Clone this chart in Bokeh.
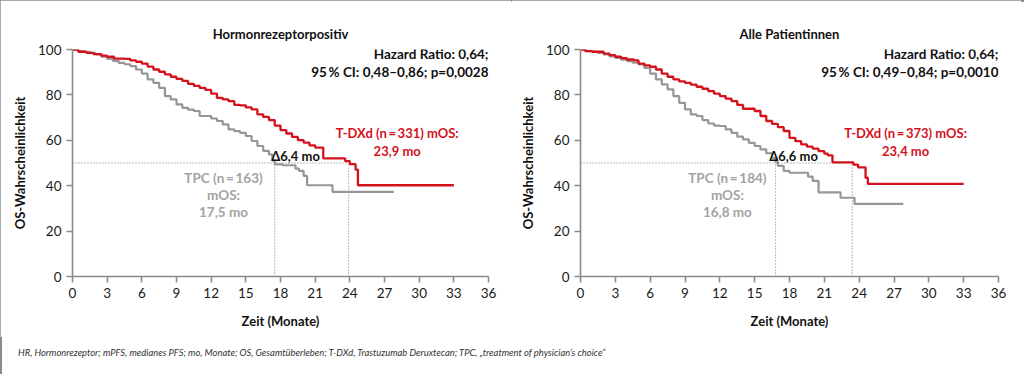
from bokeh.plotting import figure
from bokeh.models import Range1d, FixedTicker, Label, Div
from bokeh.layouts import row, column
from bokeh.embed import file_html
from bokeh.resources import INLINE

# ---------------- data ----------------
x_ticks = [0, 3, 6, 9, 12, 15, 18, 21, 24, 27, 30, 33, 36]
y_ticks = [0, 20, 40, 60, 80, 100]

# Panel 1: Hormonrezeptorpositiv
hr_tdxd_t = [0, 0.5, 1.2, 1.8, 2.5, 3.0, 3.6, 4.5, 5.0, 5.5, 6.0, 6.5, 7.0, 7.5, 8.0, 8.5,
             9.0, 9.5, 10.0, 10.5, 11.0, 11.5, 12.0, 12.5, 13.0, 13.5, 14.0, 14.5, 15.0,
             15.5, 16.0, 16.5, 17.0, 17.5, 18.0, 18.5, 19.0, 19.5, 20.0, 20.5, 21.0, 21.7,
             23.6, 24.0, 24.5, 24.7, 33.0]
hr_tdxd_s = [100, 99, 98.5, 98, 97.3, 96.8, 96, 95.9, 95.2, 94.6, 93.8, 92.5, 91.2, 90.2,
             89, 88, 87.1, 86.2, 84.9, 84, 83.1, 82.2, 80.6, 78.7, 78, 77.3, 75.6, 75.4,
             74.5, 73.6, 71.4, 70.3, 68.9, 66.5, 64.5, 63.0, 61.5, 60.1, 59, 57.8, 56.8,
             52.0, 50.8, 49.5, 47.1, 40.2, 40.2]
hr_tpc_t = [0, 0.5, 1.0, 1.5, 2.0, 2.5, 3.0, 3.5, 4.0, 4.5, 5.0, 5.5, 6.0, 6.5, 7.0, 7.5,
            8.0, 8.5, 9.0, 9.5, 10.0, 10.5, 11.0, 12.0, 12.5, 13.0, 13.5, 14.0, 14.5, 15.0,
            15.5, 16.0, 16.5, 17.0, 17.3, 17.5, 18.2, 19.3, 19.6, 20.0, 20.3, 22.5, 27.8]
hr_tpc_s = [100, 99.3, 99, 98.5, 97.8, 96.8, 95.9, 95, 94.1, 93.5, 92.7, 91.2, 89.4, 86.8,
            85.3, 83.1, 79.5, 78, 75.8, 74.3, 73.5, 72.9, 70.7, 69.6, 68.5, 67, 64.8, 64,
            63.3, 61.9, 59.7, 57.5, 55.3, 53.8, 51.2, 49.4, 49.0, 47.5, 46.5, 44.3, 40.2,
            37.3, 37.3]
hr_median_tdxd = 23.9
hr_median_tpc = 17.5

# Panel 2: Alle Patientinnen
all_tdxd_t = [0, 0.4, 1.0, 2.0, 2.5, 3.0, 3.5, 4.0, 4.6, 5.0, 5.5, 6.0, 6.5, 7.0, 7.5, 8.0,
              8.5, 9.0, 9.5, 10.0, 10.5, 11.0, 11.5, 12.0, 12.5, 13.0, 13.5, 14.0, 15.0,
              15.5, 16.0, 16.5, 17.0, 17.5, 18.0, 18.5, 19.0, 19.5, 20.0, 20.5, 21.0, 21.3,
              21.7, 23.5, 23.9, 24.55, 24.75, 33.0]
all_tdxd_s = [100, 99.3, 99, 98.2, 97.5, 96.8, 96.2, 95.6, 95.2, 93.8, 93, 92.4, 91.2, 89.4,
              88, 86.8, 86, 85.3, 84.5, 83.6, 82.7, 81.7, 80.6, 79.5, 78.4, 77.3, 75.6,
              73.9, 72.9, 70.7, 68.5, 67.2, 65.8, 64.1, 61.1, 59.6, 58.2, 57.2, 56.3, 55.2,
              54.1, 53.4, 50.3, 49.3, 48.1, 43.5, 40.8, 40.8]
all_tpc_t = [0, 0.5, 1.0, 1.5, 2.0, 2.5, 3.0, 3.5, 4.0, 4.5, 5.0, 5.5, 6.0, 6.5, 7.0, 7.5,
             8.0, 8.5, 9.0, 9.5, 10.0, 10.5, 11.0, 11.5, 12.0, 12.5, 13.0, 13.5, 14.0, 14.5,
             15.0, 15.5, 16.0, 16.5, 16.8, 17.0, 17.5, 18.0, 19.6, 20.0, 20.5, 22.4, 23.6,
             27.8]
all_tpc_s = [100, 99.3, 99, 98.5, 97.8, 97, 96.3, 95.5, 94.9, 94.2, 93.4, 91.9, 89.4, 86.8,
             84.6, 82.4, 79.5, 76.5, 73.6, 71.4, 70.7, 68.9, 67.4, 66.5, 66.3, 64.8, 63.3,
             61.6, 60.4, 58.9, 57.5, 56, 54.3, 52.2, 50.4, 48.7, 46.5, 45.7, 44, 42.1, 37.1,
             34.7, 32.0, 32.0]
all_median_tdxd = 23.4
all_median_tpc = 16.8

titles = ["Hormonrezeptorpositiv", "Alle Patientinnen"]
hr_lines = [["Hazard Ratio: 0,64;", "95\u2009% CI: 0,48\u20130,86; p=0,0028"],
            ["Hazard Ratio: 0,64;", "95\u2009% CI: 0,49\u20130,84; p=0,0010"]]
tdxd_lines = [["T-DXd (n\u2009=\u2009331) mOS:", "23,9 mo"],
              ["T-DXd (n\u2009=\u2009373) mOS:", "23,4 mo"]]
tpc_lines = [["TPC (n\u2009=\u2009163)", "mOS:", "17,5 mo"],
             ["TPC (n\u2009=\u2009184)", "mOS:", "16,8 mo"]]
delta_texts = ["\u03946,4 mo", "\u03946,6 mo"]
footnote = ("HR, Hormonrezeptor; mPFS, medianes PFS; mo, Monate; OS, Gesamt\u00fcberleben; "
            "T-DXd, Trastuzumab Deruxtecan; TPC, \u201etreatment of physician\u2019s choice\u201c")

RED = "#d4121c"
GRAY = "#969696"
TXTGRAY = "#a3a3a3"
AXIS = "#8a8a8a"
FONT = "Lato"


def panel(idx, tdxd_t, tdxd_s, tpc_t, tpc_s, med_tdxd, med_tpc, width, left, right,
          tdxd_x, tpc_x, delta_x):
    p = figure(width=width, height=337, output_backend="svg", toolbar_location=None,
               x_range=Range1d(0, 36), y_range=Range1d(0, 100),
               min_border_left=left, min_border_right=right,
               min_border_top=49, min_border_bottom=61,
               title=titles[idx])
    p.outline_line_color = None
    p.grid.visible = False
    p.background_fill_color = "white"
    p.border_fill_color = "white"
    p.title.align = "center"
    p.title.text_font = FONT
    p.title.text_font_size = "13px"
    p.title.text_font_style = "bold"
    p.title.text_color = "#111111"
    p.title.standoff = 15

    for ax in (p.xaxis[0], p.yaxis[0]):
        ax.axis_line_color = AXIS
        ax.axis_line_width = 1.6
        ax.major_tick_line_color = AXIS
        ax.major_tick_line_width = 1.6
        ax.major_tick_out = 6
        ax.major_tick_in = 0
        ax.minor_tick_line_color = None
        ax.major_label_text_font = FONT
        ax.major_label_text_font_size = "13.5px"
        ax.major_label_text_color = "#1a1a1a"
        ax.axis_label_text_font = FONT
        ax.axis_label_text_font_size = "13px"
        ax.axis_label_text_font_style = "bold"
        ax.axis_label_text_color = "#111111"
    p.xaxis.ticker = FixedTicker(ticks=x_ticks)
    p.yaxis.ticker = FixedTicker(ticks=y_ticks)
    p.xaxis.axis_label = "Zeit (Monate)"
    p.yaxis.axis_label = "OS-Wahrscheinlichkeit"
    p.xaxis.major_label_standoff = 5
    p.xaxis.axis_label_standoff = 12
    p.yaxis.major_label_standoff = 5
    p.yaxis.axis_label_standoff = 7

    # median guide lines
    p.line([0, med_tdxd], [50, 50], line_color="#777777", line_width=1, line_dash="1 2")
    p.line([med_tpc, med_tpc], [0, 50], line_color="#777777", line_width=1, line_dash="1 2")
    p.line([med_tdxd, med_tdxd], [0, 50], line_color="#777777", line_width=1, line_dash="1 2")

    # KM curves
    p.step(tpc_t, tpc_s, mode="after", line_color=GRAY, line_width=2.2)
    p.step(tdxd_t, tdxd_s, mode="after", line_color=RED, line_width=2.3)

    def lab(x, y, text, color, size="13px", align="center"):
        p.add_layout(Label(x=x, y=y, text=text, text_align=align, text_baseline="middle",
                           text_font=FONT, text_font_size=size, text_font_style="bold",
                           text_color=color))

    lab(36, 98.2, hr_lines[idx][0], "#111111", size="13.5px", align="right")
    lab(36, 90.3, hr_lines[idx][1], "#111111", size="13.5px", align="right")
    lab(tdxd_x, 63.0, tdxd_lines[idx][0], RED)
    lab(tdxd_x, 55.1, tdxd_lines[idx][1], RED)
    lab(tpc_x, 43.6, tpc_lines[idx][0], TXTGRAY, size="13.5px")
    lab(tpc_x, 35.7, tpc_lines[idx][1], TXTGRAY, size="13.5px")
    lab(tpc_x, 28.2, tpc_lines[idx][2], TXTGRAY, size="13.5px")
    lab(delta_x, 53.3, delta_texts[idx], "#111111")
    return p


p1 = panel(0, hr_tdxd_t, hr_tdxd_s, hr_tpc_t, hr_tpc_s, hr_median_tdxd, hr_median_tpc,
           511, 72, 23, 28.1, 13.07, 19.3)
p2 = panel(1, all_tdxd_t, all_tdxd_s, all_tpc_t, all_tpc_s, all_median_tdxd, all_median_tpc,
           510, 69, 23, 28.0, 12.65, 18.35)

note = Div(text=('<div style="font-family:Lato;font-style:italic;font-size:9.4px;'
                 'color:#333333;margin-left:13px;margin-top:4px;line-height:14px;'
                 'white-space:nowrap">' + footnote + '</div>'),
           width=1021, height=33)

layout = column(row(p1, p2), note,
                styles={"outline": "2px solid #8c8c8c", "outline-offset": "-2px"})

open("out.html", "w").write(file_html(layout, INLINE))
